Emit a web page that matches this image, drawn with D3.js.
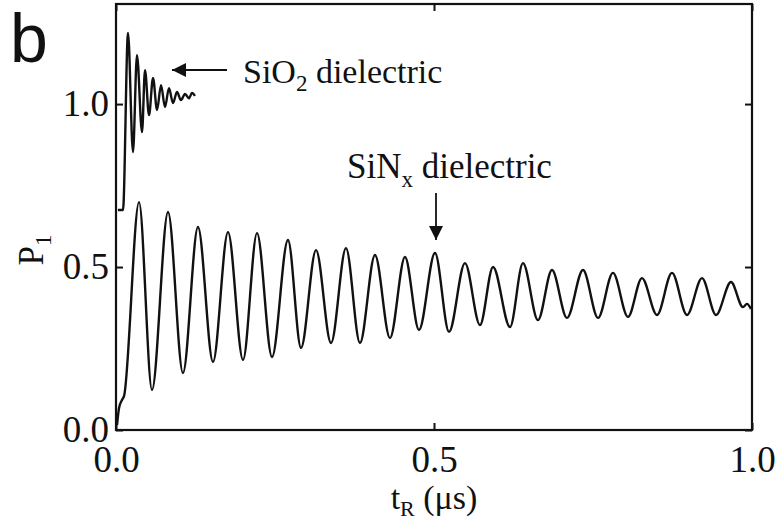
<!DOCTYPE html>
<html>
<head>
<meta charset="utf-8">
<script src="https://cdn.jsdelivr.net/npm/d3@7"></script>
<style>
  html, body { margin: 0; padding: 0; background: #fff; }
  svg { display: block; }
  text { font-family: "Liberation Serif", "Times New Roman", serif; fill: #111; }
</style>
</head>
<body>
<svg id="chart" width="777" height="521"></svg>
<script>
// ---- data ----
const xTicks = [0, 0.5, 1.0];
const yTicks = [0, 0.5, 1.0];

// SiO2 dielectric trace: time (us) and P1
const sio2T = [0.003, 0.011, 0.0189, 0.0267, 0.033, 0.0409, 0.0456, 0.0519, 0.0582, 0.0645,
               0.0708, 0.077, 0.0833, 0.0896, 0.0959, 0.1022, 0.1085, 0.1148, 0.1195, 0.1242];
const sio2P = [0.675, 0.675, 1.218, 0.853, 1.150, 0.914, 1.104, 0.966, 1.080, 0.982,
               1.058, 0.991, 1.049, 1.003, 1.037, 1.012, 1.031, 1.018, 1.034, 1.025];

// SiNx dielectric trace: time (us) and P1 (start, then alternating peaks/troughs)
const sinT = [0.0016, 0.0047, 0.0094, 0.0126,
              0.0362, 0.0566, 0.0818, 0.1053, 0.1289, 0.1525, 0.1761, 0.1997, 0.2217, 0.2453,
              0.2704, 0.2909, 0.3145, 0.3381, 0.3616, 0.3836, 0.4072, 0.4308, 0.4544, 0.4764,
              0.5016, 0.5236, 0.5487, 0.5723, 0.5928, 0.6195, 0.6399, 0.6635, 0.6855, 0.7091,
              0.7343, 0.7579, 0.7814, 0.8050, 0.8270, 0.8506, 0.8742, 0.8978, 0.9214, 0.9434,
              0.9670, 0.9858, 0.9921, 0.9984];
const sinP = [0.015, 0.067, 0.092, 0.104,
              0.699, 0.123, 0.669, 0.175, 0.623, 0.209, 0.607, 0.215, 0.604, 0.224,
              0.583, 0.252, 0.552, 0.267, 0.558, 0.267, 0.537, 0.282, 0.531, 0.307,
              0.543, 0.301, 0.512, 0.322, 0.500, 0.316, 0.512, 0.337, 0.491, 0.344,
              0.491, 0.344, 0.482, 0.347, 0.466, 0.353, 0.482, 0.353, 0.466, 0.353,
              0.454, 0.377, 0.387, 0.371];

// ---- drawing ----
const svg = d3.select("#chart");
const x = d3.scaleLinear().domain([0, 1]).range([116, 752]);
const y = d3.scaleLinear().domain([0, 1.307]).range([430, 4]);

const fmt = d3.format(".1f");
const tickFont = 37;

// frame
svg.append("rect")
  .attr("x", x(0)).attr("y", y(1.307))
  .attr("width", x(1) - x(0)).attr("height", y(0) - y(1.307))
  .attr("fill", "none").attr("stroke", "#111").attr("stroke-width", 2.2);

function styleAxis(g) {
  g.select(".domain").remove();
  g.selectAll(".tick line").attr("stroke", "#111").attr("stroke-width", 2);
  g.selectAll(".tick text").style("font-size", tickFont + "px")
    .style("font-family", '"Liberation Serif", "Times New Roman", serif').attr("fill", "#111");
}

svg.append("g").attr("transform", `translate(${x(0)},0)`)
  .call(d3.axisLeft(y).tickValues(yTicks).tickFormat(fmt).tickSize(-7).tickPadding(7))
  .call(styleAxis);
svg.append("g").attr("transform", `translate(${x(1)},0)`)
  .call(d3.axisRight(y).tickValues(yTicks).tickFormat("").tickSize(-7))
  .call(styleAxis);
svg.append("g").attr("transform", `translate(0,${y(0)})`)
  .call(d3.axisBottom(x).tickValues(xTicks).tickFormat(fmt).tickSize(-7).tickPadding(16))
  .call(styleAxis);
svg.append("g").attr("transform", `translate(0,${y(1.307)})`)
  .call(d3.axisTop(x).tickValues(xTicks).tickFormat("").tickSize(-7))
  .call(styleAxis);

// traces
const line = d3.line().x(d => x(d[0])).y(d => y(d[1])).curve(d3.curveMonotoneX);
svg.append("path").datum(sio2T.map((t, i) => [t, sio2P[i]]))
  .attr("d", line).attr("fill", "none").attr("stroke", "#111").attr("stroke-width", 2.4)
  .attr("stroke-linejoin", "round");
svg.append("path").datum(sinT.map((t, i) => [t, sinP[i]]))
  .attr("d", line).attr("fill", "none").attr("stroke", "#111").attr("stroke-width", 2.4)
  .attr("stroke-linejoin", "round");

// arrowhead
svg.append("defs").append("marker")
  .attr("id", "ah").attr("viewBox", "0 0 10 10").attr("refX", 10).attr("refY", 5)
  .attr("markerWidth", 14).attr("markerHeight", 14).attr("markerUnits", "userSpaceOnUse")
  .attr("orient", "auto")
  .append("path").attr("d", "M0,0 L10,5 L0,10 Z").attr("fill", "#111");

// SiO2 annotation
svg.append("line").attr("x1", 227).attr("y1", 70).attr("x2", 172).attr("y2", 70)
  .attr("stroke", "#111").attr("stroke-width", 1.8).attr("marker-end", "url(#ah)");
const t1 = svg.append("text").attr("x", 243).attr("y", 83).style("font-size", "34px");
t1.append("tspan").text("SiO");
t1.append("tspan").attr("dy", 8).style("font-size", "23px").text("2");
t1.append("tspan").attr("dy", -8).text(" dielectric");

// SiNx annotation
const t2 = svg.append("text").attr("x", 347).attr("y", 178).style("font-size", "35px");
t2.append("tspan").text("SiN");
t2.append("tspan").attr("dy", 9).style("font-size", "23px").text("x");
t2.append("tspan").attr("dy", -9).text(" dielectric");
svg.append("line").attr("x1", 436).attr("y1", 193).attr("x2", 436).attr("y2", 240)
  .attr("stroke", "#111").attr("stroke-width", 1.8).attr("marker-end", "url(#ah)");

// axis titles
const xt = svg.append("text").attr("x", 434).attr("y", 509).attr("text-anchor", "middle")
  .style("font-size", "34px");
xt.append("tspan").text("t");
xt.append("tspan").attr("dy", 7).style("font-size", "22px").text("R");
xt.append("tspan").attr("dy", -7).text(" (μs)");

const yt = svg.append("text").attr("transform", "translate(43,250) rotate(-90)")
  .attr("text-anchor", "middle").style("font-size", "35px");
yt.append("tspan").text("P");
yt.append("tspan").attr("dy", 8).style("font-size", "23px").text("1");

// panel letter
svg.append("text").attr("x", 10).attr("y", 62)
  .style("font-family", '"Liberation Sans", Arial, sans-serif').style("font-size", "68px")
  .text("b");
</script>
</body>
</html>
